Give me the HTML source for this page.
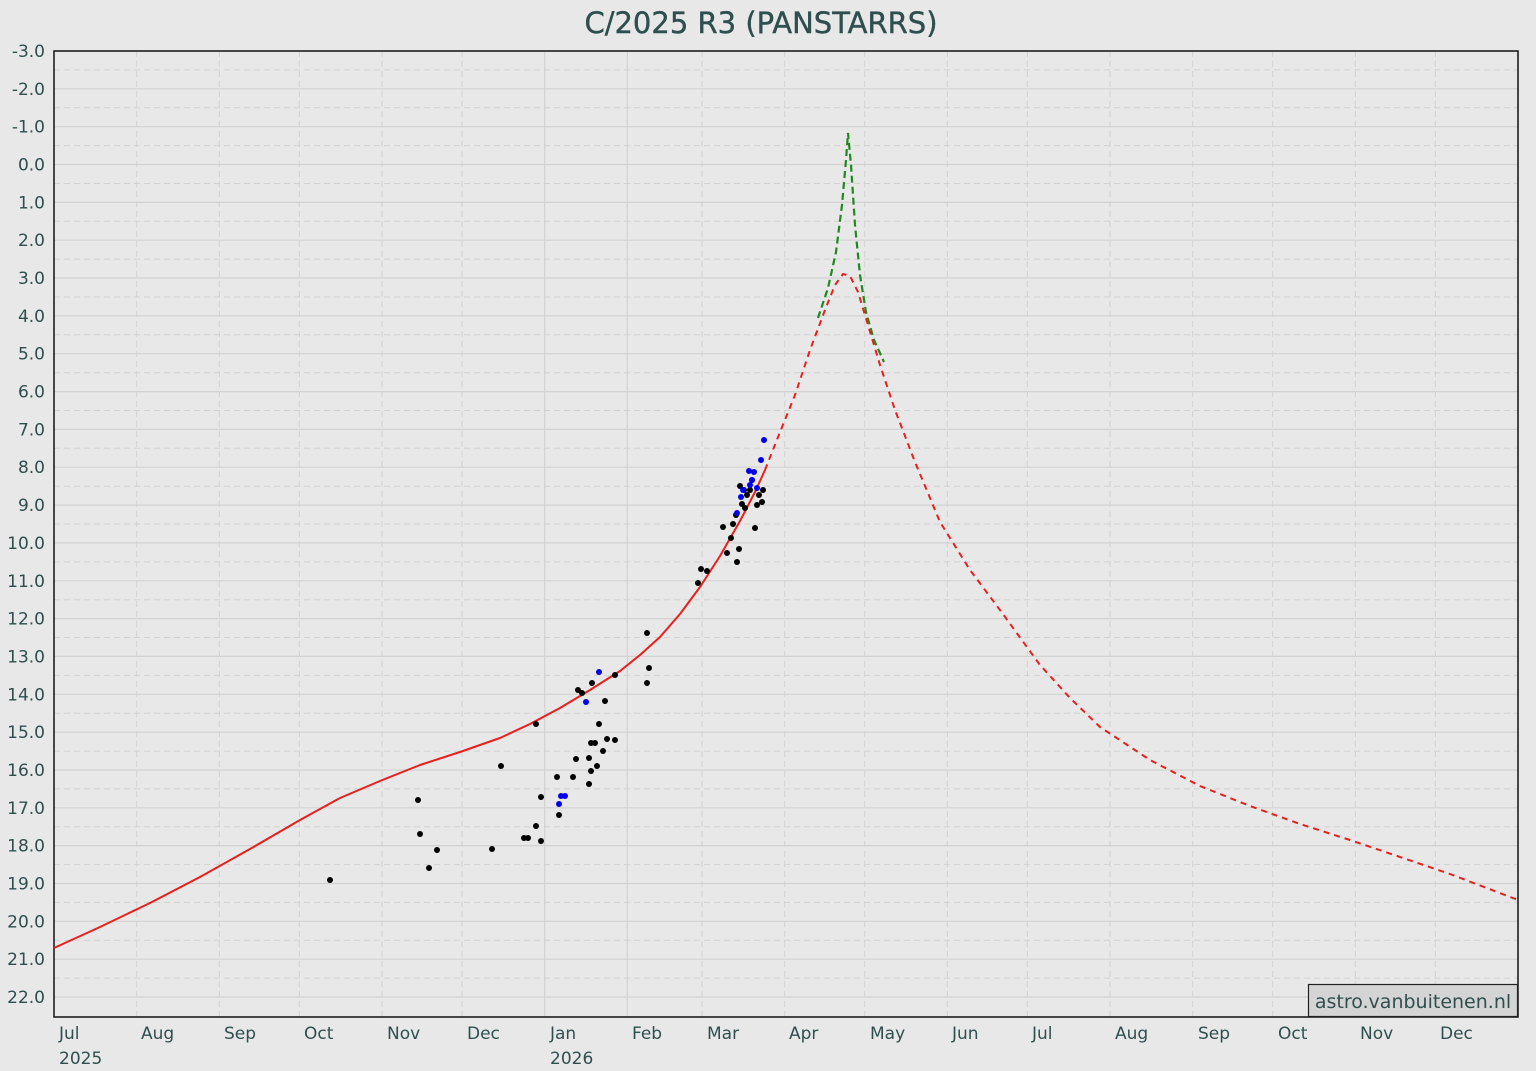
<!DOCTYPE html>
<html><head><meta charset="utf-8"><style>
html,body{margin:0;padding:0;background:#e8e8e8;}
svg{display:block;font-family:"DejaVu Sans","Liberation Sans",sans-serif;}
</style></head><body>
<svg width="1536" height="1071" viewBox="0 0 1536 1071" xmlns="http://www.w3.org/2000/svg">
<rect width="1536" height="1071" fill="#e8e8e8"/>
<text x="761" y="33" text-anchor="middle" font-size="29" fill="#2f4f4f" stroke="#2f4f4f" stroke-width="0.4">C/2025 R3 (PANSTARRS)</text>
<path fill="none" stroke="#d2d2d2" stroke-width="1" stroke-dasharray="6,4" d="M54 69.9H1518M54 107.8H1518M54 145.6H1518M54 183.5H1518M54 221.3H1518M54 259.1H1518M54 297H1518M54 334.8H1518M54 372.7H1518M54 410.5H1518M54 448.3H1518M54 486.2H1518M54 524H1518M54 561.9H1518M54 599.7H1518M54 637.5H1518M54 675.4H1518M54 713.2H1518M54 751.1H1518M54 788.9H1518M54 826.7H1518M54 864.6H1518M54 902.4H1518M54 940.3H1518M54 978.1H1518"/>
<path fill="none" stroke="#d2d2d2" stroke-width="1.2" d="M54 88.8H1518M54 126.7H1518M54 164.5H1518M54 202.4H1518M54 240.2H1518M54 278H1518M54 315.9H1518M54 353.7H1518M54 391.6H1518M54 429.4H1518M54 467.2H1518M54 505.1H1518M54 542.9H1518M54 580.8H1518M54 618.6H1518M54 656.4H1518M54 694.3H1518M54 732.1H1518M54 770H1518M54 807.8H1518M54 845.6H1518M54 883.5H1518M54 921.3H1518M54 959.2H1518M54 997H1518"/>
<path fill="none" stroke="#d2d2d2" stroke-width="1" stroke-dasharray="6,4" d="M136.7 51V1017M219.3 51V1017M299.3 51V1017M382 51V1017M462 51V1017M702 51V1017M784.7 51V1017M864.7 51V1017M947.3 51V1017M1027.3 51V1017M1110 51V1017M1192.7 51V1017M1272.7 51V1017M1355.3 51V1017M1435.3 51V1017"/>
<path fill="none" stroke="#d2d2d2" stroke-width="1.2" d="M544.7 51V1017M627.3 51V1017"/>
<rect x="54" y="51" width="1464" height="966" fill="none" stroke="#111" stroke-width="1.5"/>
<g font-size="17" fill="#2f4f4f" text-anchor="end">
<text x="45" y="57">-3.0</text><text x="45" y="94.8">-2.0</text><text x="45" y="132.7">-1.0</text><text x="45" y="170.5">0.0</text><text x="45" y="208.4">1.0</text><text x="45" y="246.2">2.0</text><text x="45" y="284">3.0</text><text x="45" y="321.9">4.0</text><text x="45" y="359.7">5.0</text><text x="45" y="397.6">6.0</text><text x="45" y="435.4">7.0</text><text x="45" y="473.2">8.0</text><text x="45" y="511.1">9.0</text><text x="45" y="548.9">10.0</text><text x="45" y="586.8">11.0</text><text x="45" y="624.6">12.0</text><text x="45" y="662.4">13.0</text><text x="45" y="700.3">14.0</text><text x="45" y="738.1">15.0</text><text x="45" y="776">16.0</text><text x="45" y="813.8">17.0</text><text x="45" y="851.6">18.0</text><text x="45" y="889.5">19.0</text><text x="45" y="927.3">20.0</text><text x="45" y="965.2">21.0</text><text x="45" y="1003">22.0</text>
</g>
<g font-size="17" fill="#2f4f4f">
<text x="59" y="1039">Jul</text><text x="59" y="1064">2025</text>
<text x="141" y="1039">Aug</text><text x="224" y="1039">Sep</text><text x="304" y="1039">Oct</text><text x="387" y="1039">Nov</text><text x="467" y="1039">Dec</text>
<text x="550" y="1039">Jan</text><text x="550" y="1064">2026</text>
<text x="632" y="1039">Feb</text><text x="707" y="1039">Mar</text><text x="789" y="1039">Apr</text><text x="870" y="1039">May</text><text x="952" y="1039">Jun</text><text x="1032" y="1039">Jul</text><text x="1115" y="1039">Aug</text><text x="1198" y="1039">Sep</text><text x="1278" y="1039">Oct</text><text x="1360" y="1039">Nov</text><text x="1440" y="1039">Dec</text>
</g>
<polyline fill="none" stroke="#e8201c" stroke-width="2" stroke-linejoin="round" points="54,948 100,927 150,903 200,877 250,849 300,820 340,798 380,781 420,765 460,752 500,738 530,724 560,708 590,690 620,671 640,655 660,637 680,614 700,587 720,556 740,521 755,492 765,470"/>
<polyline fill="none" stroke="#1e8a1e" stroke-width="2.2" stroke-dasharray="7,4" points="818,318 828,288 836,252 842,205 846,160 848,133 851,165 855,225 860,275 866,312 874,340 884,362"/>
<polyline fill="none" stroke="#e8201c" stroke-width="2" stroke-dasharray="6,5" stroke-linejoin="round" points="765,470 780,432 795,395 810,350 825,310 835,285 843,274 850,276 858,292 868,325 880,365 895,410 915,462 940,522 970,570 1000,610 1040,665 1070,698 1100,727 1150,760 1200,786 1250,806 1300,824 1350,840 1400,857 1450,874 1518,900"/>
<g fill="#000">
<circle cx="330" cy="880" r="3"/><circle cx="418" cy="800" r="3"/><circle cx="420" cy="834" r="3"/><circle cx="429" cy="868" r="3"/><circle cx="437" cy="850" r="3"/><circle cx="492" cy="849" r="3"/><circle cx="501" cy="766" r="3"/><circle cx="536" cy="724" r="3"/><circle cx="524" cy="838" r="3"/><circle cx="528" cy="838" r="3"/><circle cx="536" cy="826" r="3"/><circle cx="541" cy="797" r="3"/><circle cx="541" cy="841" r="3"/><circle cx="557" cy="777" r="3"/><circle cx="559" cy="815" r="3"/><circle cx="573" cy="777" r="3"/><circle cx="576" cy="759" r="3"/><circle cx="578" cy="690" r="3"/><circle cx="582" cy="693" r="3"/><circle cx="589" cy="758" r="3"/><circle cx="589" cy="784" r="3"/><circle cx="591" cy="771" r="3"/><circle cx="591" cy="743" r="3"/><circle cx="592" cy="683" r="3"/><circle cx="595" cy="743" r="3"/><circle cx="597" cy="766" r="3"/><circle cx="599" cy="724" r="3"/><circle cx="603" cy="751" r="3"/><circle cx="605" cy="701" r="3"/><circle cx="607" cy="739" r="3"/><circle cx="615" cy="675" r="3"/><circle cx="615" cy="740" r="3"/><circle cx="647" cy="633" r="3"/><circle cx="649" cy="668" r="3"/><circle cx="647" cy="683" r="3"/><circle cx="698" cy="583" r="3"/><circle cx="701" cy="569" r="3"/><circle cx="707" cy="571" r="3"/><circle cx="723" cy="527" r="3"/><circle cx="727" cy="553" r="3"/><circle cx="731" cy="538" r="3"/><circle cx="737" cy="562" r="3"/><circle cx="739" cy="549" r="3"/><circle cx="733" cy="524" r="3"/><circle cx="740" cy="486" r="3"/><circle cx="742" cy="504" r="3"/><circle cx="745" cy="508" r="3"/><circle cx="747" cy="495" r="3"/><circle cx="750" cy="490" r="3"/><circle cx="752" cy="480" r="3"/><circle cx="755" cy="528" r="3"/><circle cx="757" cy="505" r="3"/><circle cx="759" cy="495" r="3"/><circle cx="763" cy="490" r="3"/><circle cx="762" cy="502" r="3"/><circle cx="736" cy="515" r="3"/><circle cx="744" cy="490" r="3"/>
</g>
<g fill="#0000ee">
<circle cx="599" cy="672" r="3"/><circle cx="586" cy="702" r="3"/><circle cx="559" cy="804" r="3"/><circle cx="561" cy="796" r="3"/><circle cx="565" cy="796" r="3"/><circle cx="764" cy="440" r="3"/><circle cx="761" cy="460" r="3"/><circle cx="749" cy="471" r="3"/><circle cx="754" cy="472" r="3"/><circle cx="752" cy="480" r="3"/><circle cx="741" cy="497" r="3"/><circle cx="743" cy="490" r="3"/><circle cx="737" cy="513" r="3"/><circle cx="757" cy="488" r="3"/><circle cx="750" cy="485" r="3"/>
</g>
<rect x="1308.5" y="984.5" width="209" height="32" fill="#d4d4d4" stroke="#222" stroke-width="1.2"/>
<text x="1413" y="1008" text-anchor="middle" font-size="19" fill="#2f4f4f">astro.vanbuitenen.nl</text>
</svg>
</body></html>
